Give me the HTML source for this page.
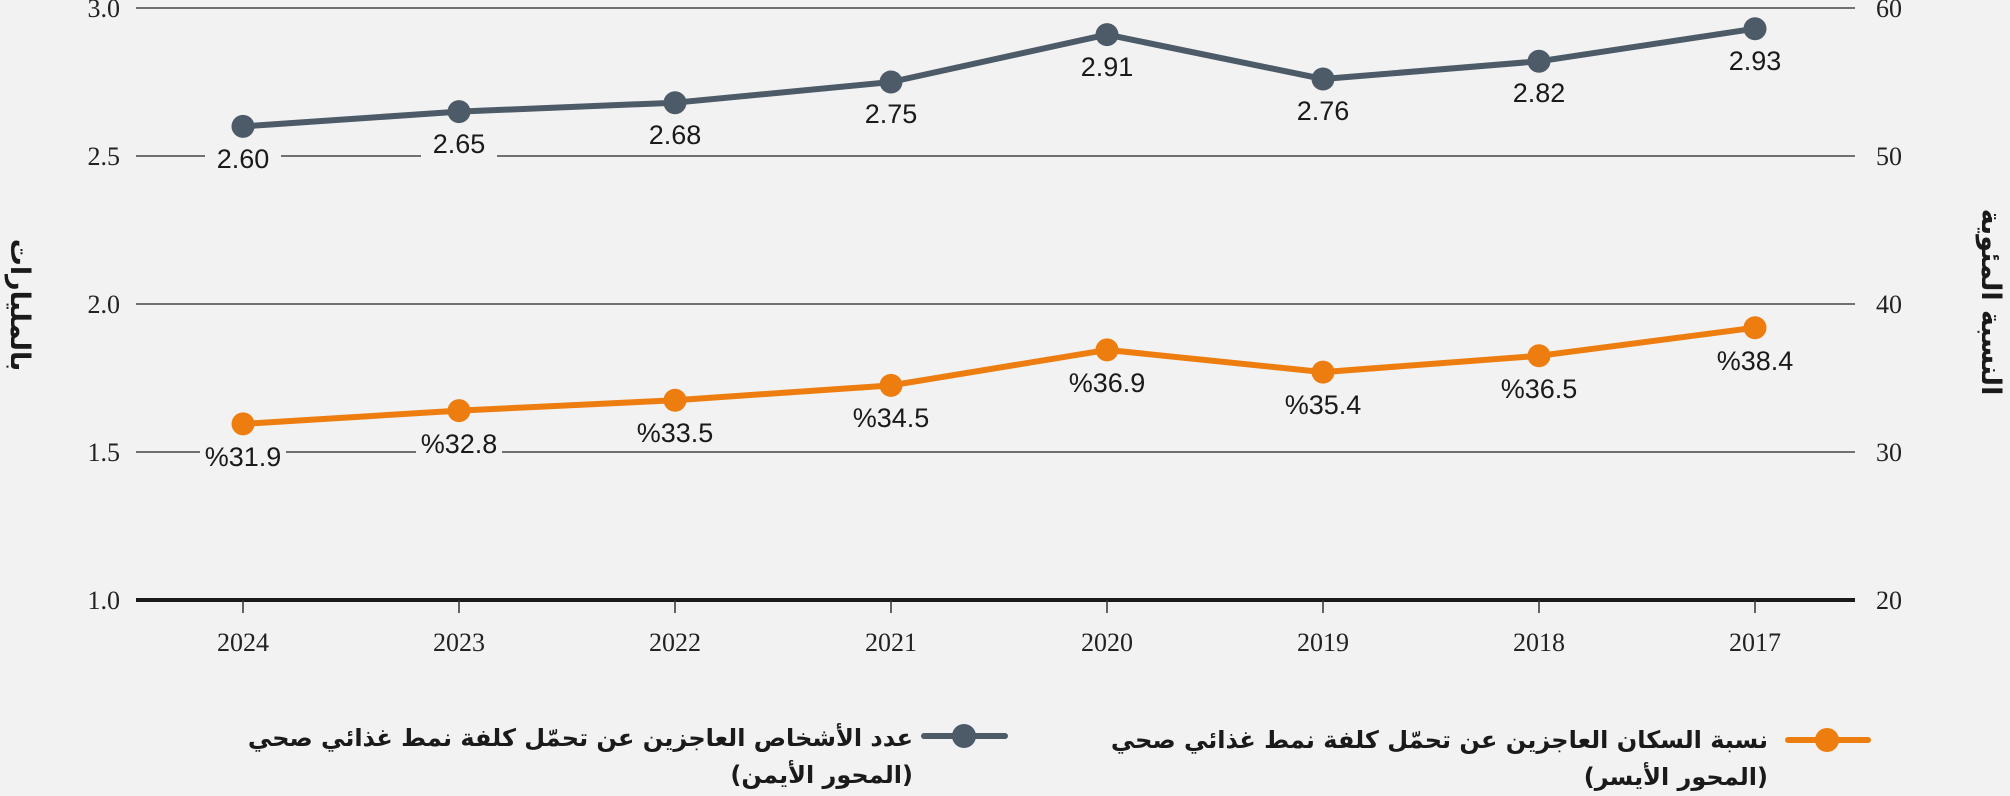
<!DOCTYPE html>
<html><head><meta charset="utf-8"><style>
html,body{margin:0;padding:0;background:#f2f2f2;}
.lg{position:absolute;direction:rtl;text-align:right;font-family:"DejaVu Sans",sans-serif;font-weight:bold;font-size:24px;line-height:37px;color:#1a1a1a;}
</style></head><body>
<div style="position:relative;width:2010px;height:796px;overflow:hidden;background:#f2f2f2">
<svg width="2010" height="796" style="position:absolute;left:0;top:0">
<g stroke="#444" stroke-width="1.5">
<line x1="136" y1="8" x2="1855" y2="8"/>
<line x1="136" y1="156" x2="1855" y2="156"/>
<line x1="136" y1="304" x2="1855" y2="304"/>
<line x1="136" y1="452" x2="1855" y2="452"/>
</g>
<line x1="136" y1="600" x2="1855" y2="600" stroke="#1a1a1a" stroke-width="4"/>
<g stroke="#333" stroke-width="1.5">
<line x1="243" y1="600" x2="243" y2="613"/><line x1="459" y1="600" x2="459" y2="613"/>
<line x1="675" y1="600" x2="675" y2="613"/><line x1="891" y1="600" x2="891" y2="613"/>
<line x1="1107" y1="600" x2="1107" y2="613"/><line x1="1323" y1="600" x2="1323" y2="613"/>
<line x1="1539" y1="600" x2="1539" y2="613"/><line x1="1755" y1="600" x2="1755" y2="613"/>
</g>
<g font-family="Liberation Serif,serif" font-size="26" fill="#222">
<g text-anchor="end">
<text x="120" y="17">3.0</text><text x="120" y="165">2.5</text><text x="120" y="313">2.0</text><text x="120" y="461">1.5</text><text x="120" y="609">1.0</text>
</g>
<g text-anchor="start">
<text x="1876" y="17">60</text><text x="1876" y="165">50</text><text x="1876" y="313">40</text><text x="1876" y="461">30</text><text x="1876" y="609">20</text>
</g>
<g text-anchor="middle">
<text x="243" y="651">2024</text><text x="459" y="651">2023</text><text x="675" y="651">2022</text><text x="891" y="651">2021</text>
<text x="1107" y="651">2020</text><text x="1323" y="651">2019</text><text x="1539" y="651">2018</text><text x="1755" y="651">2017</text>
</g>
</g>
<polyline fill="none" stroke="#4d5a68" stroke-width="6" stroke-linejoin="round" points="243,126.4 459,111.6 675,102.7 891,82 1107,34.6 1323,79 1539,61.3 1755,28.7"/>
<g fill="#4d5a68">
<circle cx="243" cy="126.4" r="11.5"/><circle cx="459" cy="111.6" r="11.5"/><circle cx="675" cy="102.7" r="11.5"/><circle cx="891" cy="82" r="11.5"/>
<circle cx="1107" cy="34.6" r="11.5"/><circle cx="1323" cy="79" r="11.5"/><circle cx="1539" cy="61.3" r="11.5"/><circle cx="1755" cy="28.7" r="11.5"/>
</g>
<polyline fill="none" stroke="#ee7d0f" stroke-width="6" stroke-linejoin="round" points="243,423.9 459,410.6 675,400.2 891,385.4 1107,349.9 1323,372.1 1539,355.8 1755,327.7"/>
<g fill="#ee7d0f">
<circle cx="243" cy="423.9" r="11.5"/><circle cx="459" cy="410.6" r="11.5"/><circle cx="675" cy="400.2" r="11.5"/><circle cx="891" cy="385.4" r="11.5"/>
<circle cx="1107" cy="349.9" r="11.5"/><circle cx="1323" cy="372.1" r="11.5"/><circle cx="1539" cy="355.8" r="11.5"/><circle cx="1755" cy="327.7" r="11.5"/>
</g>
<g fill="#f2f2f2">
<rect x="205" y="143" width="76" height="32"/><rect x="421" y="130" width="76" height="32"/>
<rect x="200" y="442" width="86" height="32"/><rect x="416" y="429" width="86" height="32"/>
</g>
<g font-family="Liberation Sans,sans-serif" font-size="27" fill="#1a1a1a" text-anchor="middle">
<text x="243" y="168">2.60</text><text x="459" y="153">2.65</text><text x="675" y="144">2.68</text><text x="891" y="123">2.75</text>
<text x="1107" y="76">2.91</text><text x="1323" y="120">2.76</text><text x="1539" y="102">2.82</text><text x="1755" y="70">2.93</text>
<text x="243" y="466">%31.9</text><text x="459" y="453">%32.8</text><text x="675" y="442">%33.5</text><text x="891" y="427">%34.5</text>
<text x="1107" y="392">%36.9</text><text x="1323" y="414">%35.4</text><text x="1539" y="398">%36.5</text><text x="1755" y="370">%38.4</text>
</g>
<g font-family="DejaVu Sans,sans-serif" font-weight="bold" font-size="27" fill="#1a1a1a" text-anchor="middle">
<text transform="translate(11,305) rotate(90)" direction="rtl">بالمليارات</text>
<text transform="translate(1982,302) rotate(90)" direction="rtl">النسبة المئوية</text>
</g>
<line x1="924" y1="736" x2="1005" y2="736" stroke="#4d5a68" stroke-width="6" stroke-linecap="round"/>
<circle cx="964" cy="736" r="12" fill="#4d5a68"/>
<line x1="1788" y1="740" x2="1868" y2="740" stroke="#ee7d0f" stroke-width="6" stroke-linecap="round"/>
<circle cx="1827" cy="740" r="12" fill="#ee7d0f"/>
</svg>
<div class="lg" style="right:1097px;top:720px;width:720px">عدد الأشخاص العاجزين عن تحمّل كلفة نمط غذائي صحي<br>(المحور الأيمن)</div>
<div class="lg" style="right:242px;top:722px;width:720px">نسبة السكان العاجزين عن تحمّل كلفة نمط غذائي صحي<br>(المحور الأيسر)</div>
</div>
</body></html>
